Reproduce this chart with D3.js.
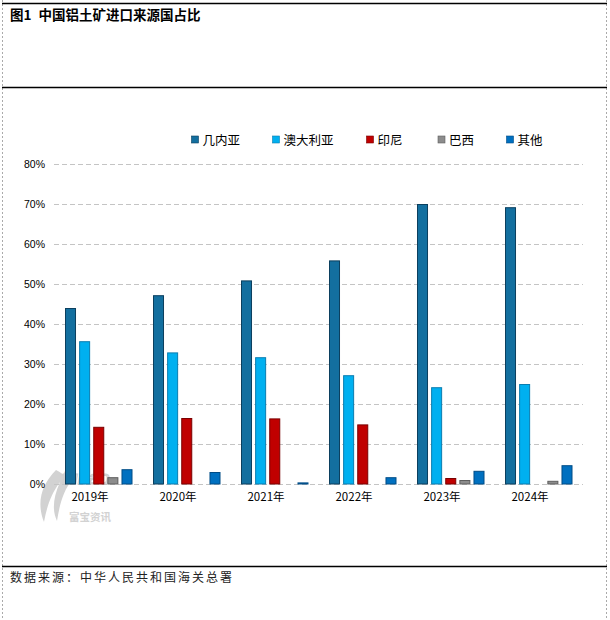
<!DOCTYPE html>
<html><head><meta charset="utf-8">
<script src="https://cdn.jsdelivr.net/npm/d3@7"></script>
<style>body{margin:0;background:#fff}svg{display:block}</style>
</head><body>
<script>
const years = ["2019年","2020年","2021年","2022年","2023年","2024年"];
const seriesNames = ["几内亚","澳大利亚","印尼","巴西","其他"];
const guinea    = [44.0, 47.2, 50.9, 55.9, 70.0, 69.2];
const australia = [35.7, 32.9, 31.7, 27.2, 24.2, 25.0];
const indonesia = [14.3, 16.5, 16.4, 14.9, 1.5, 0];
const brazil    = [1.7, 0, 0, 0, 1.0, 0.8];
const others    = [3.7, 3.0, 0.4, 1.7, 3.3, 4.7];
const yTicks = [0,10,20,30,40,50,60,70,80];

const seriesValues = [guinea, australia, indonesia, brazil, others];
const fills   = ["#136F9F","#00B0F0","#C00000","#8C8C8C","#0070C0"];
const strokes = ["#0B3F5E","#0A7DB0","#7A0000","#5E5E5E","#004C86"];

const W=610,H=620;
const svg=d3.select("body").append("svg").attr("width",W).attr("height",H);

// frame
svg.append("line").attr("x1",2.5).attr("x2",2.5).attr("y1",0).attr("y2",H).attr("stroke","#aaa").attr("stroke-dasharray","2,2");
svg.append("line").attr("x1",606.5).attr("x2",606.5).attr("y1",0).attr("y2",H).attr("stroke","#aaa").attr("stroke-dasharray","2,2");
[3.5,87.5,566.5].forEach(y=>svg.append("line").attr("x1",2).attr("x2",607).attr("y1",y).attr("y2",y).attr("stroke","#000").attr("stroke-width",1.3));

const title=svg.append("text").attr("x",10).attr("y",20).attr("font-family","'Noto Sans CJK SC'").attr("font-weight","bold")
  .attr("font-size",13.5).attr("fill","#000");
title.append("tspan").text("图1");
title.append("tspan").attr("dx",7).text("中国铝土矿进口来源国占比");
svg.append("text").attr("x",10).attr("y",582).attr("font-family","'Noto Sans CJK SC'")
  .attr("font-size",12).attr("fill","#222").attr("letter-spacing",2).text("数据来源：中华人民共和国海关总署");

const x0=54,x1=582,yTop=164,yBot=484;
const x=d3.scaleBand().domain(years).range([x0,x1]).paddingInner(0).paddingOuter(0);
const xi=d3.scaleBand().domain(seriesNames).range([11,11+5*13.5]).paddingInner(0.22);
const y=d3.scaleLinear().domain([0,80]).range([yBot,yTop]);

// watermark
const wm=svg.append("g").attr("fill","#d2d2d2");
wm.append("path").attr("d","M56,470 C42,484 36,502 44,522 C47,506 51,494 60,482 C53,498 52,510 57,521 C60,502 64,490 72,480 C65,476 60,472 56,470 Z");
wm.append("text").attr("x",62).attr("y",484).attr("font-family","'Liberation Sans'").attr("font-size",19).attr("font-style","italic").attr("fill","none").attr("stroke","#cfcfcf").attr("stroke-width",1.2).text("fubao");
wm.append("text").attr("x",69).attr("y",521).attr("font-family","'Noto Sans CJK SC'").attr("font-weight","bold").attr("font-size",10.5).text("富宝资讯");

// grid
svg.append("g").selectAll("line").data(yTicks).join("line")
  .attr("x1",x0).attr("x2",x1+1).attr("y1",d=>Math.round(y(d))+0.5).attr("y2",d=>Math.round(y(d))+0.5)
  .attr("stroke","#c4c4c4").attr("stroke-dasharray","5,3");

// y axis
const ya=svg.append("g").attr("transform",`translate(${x0},0)`)
  .call(d3.axisLeft(y).tickValues(yTicks).tickFormat(d=>d+"%").tickSize(0).tickPadding(9));
ya.select(".domain").remove();
ya.selectAll("text").attr("font-family","'Liberation Sans'").attr("font-size",10.5).attr("fill","#000");

// x axis
const xa=svg.append("g").attr("transform",`translate(-8,${yBot})`)
  .call(d3.axisBottom(x).tickSize(0).tickPadding(9));
xa.select(".domain").remove();
xa.selectAll("text").attr("font-family","'Noto Sans CJK SC'").attr("font-size",11.5).attr("fill","#000");

// bars
seriesValues.forEach((vals,si)=>{
  svg.append("g").selectAll("rect").data(vals.map((v,i)=>({v,yr:years[i]})).filter(d=>d.v>0)).join("rect")
    .attr("x",d=>x(d.yr)+xi(seriesNames[si])+0.5)
    .attr("width",xi.bandwidth()-1)
    .attr("y",d=>y(d.v)+0.5)
    .attr("height",d=>Math.max(0,y(0)-y(d.v)-0.5))
    .attr("fill",fills[si]).attr("stroke",strokes[si]).attr("stroke-width",1);
});

// legend
const legX=[191.5,272.5,366.5,438,506.5];
const lg=svg.append("g");
seriesNames.forEach((n,i)=>{
  lg.append("rect").attr("x",legX[i]).attr("y",136).attr("width",7).attr("height",7)
    .attr("fill",fills[i]).attr("stroke",strokes[i]).attr("stroke-width",0.6);
  lg.append("text").attr("x",legX[i]+11).attr("y",144.5).attr("font-family","'Noto Sans CJK SC'")
    .attr("font-size",12.5).attr("fill","#000").text(n);
});
</script>
</body></html>
